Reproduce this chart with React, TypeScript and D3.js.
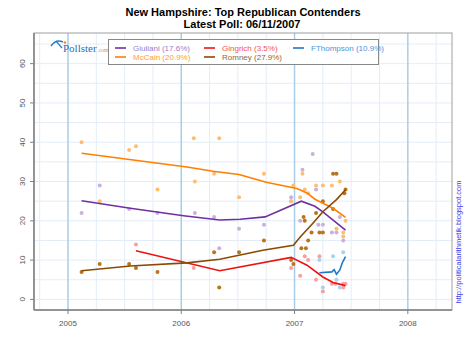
import React from 'react';
import * as d3 from 'd3';

const W = 470;
const H = 352;
const margin = { top: 33, right: 18, bottom: 42, left: 34 };

const yearTicks = [2005, 2006, 2007, 2008];
const valueTicks = [0, 10, 20, 30, 40, 50, 60];

const candidates = ['Giuliani', 'McCain', 'Gingrich', 'Romney', 'FThompson'];
const latest = [17.6, 20.9, 3.5, 27.9, 10.9];

const lineColors: Record<string, string> = {
	Giuliani: '#7030a0',
	McCain: '#ff7f00',
	Gingrich: '#ee1111',
	Romney: '#8b4a00',
	FThompson: '#1f78c4'
};
const pointColors: Record<string, string> = {
	Giuliani: '#c8b0e0',
	McCain: '#ffbd70',
	Gingrich: '#f6a0a0',
	Romney: '#b8741e',
	FThompson: '#a8d2ee'
};
const legendText: Record<string, string> = {
	Giuliani: '#9b7cc8',
	McCain: '#ff9a3a',
	Gingrich: '#f05555',
	Romney: '#8a6a40',
	FThompson: '#4b95d6'
};

// polls: [decimal year, percent]
const giulianiPolls = [
	[2005.12, 22], [2005.28, 29], [2005.54, 23], [2005.79, 22], [2006.12, 22], [2006.29, 21],
	[2006.335, 13], [2006.51, 18], [2006.73, 19], [2006.97, 26], [2006.97, 25], [2007.05, 20],
	[2007.07, 33], [2007.16, 37], [2007.19, 28], [2007.21, 19], [2007.25, 19], [2007.33, 17],
	[2007.37, 17], [2007.4, 21], [2007.43, 15]
];
const mccainPolls = [
	[2005.12, 40], [2005.28, 25], [2005.54, 38], [2005.6, 39], [2005.79, 28], [2006.11, 41],
	[2006.12, 30], [2006.29, 32], [2006.335, 41], [2006.51, 26], [2006.73, 32], [2006.97, 25],
	[2006.99, 29], [2007.05, 26], [2007.07, 32], [2007.09, 28], [2007.12, 27], [2007.19, 29],
	[2007.25, 29], [2007.33, 29], [2007.4, 30], [2007.37, 18], [2007.43, 17], [2007.43, 16],
	[2007.45, 20]
];
const gingrichPolls = [
	[2005.6, 14], [2006.11, 8], [2006.97, 8], [2007.05, 6], [2007.09, 11], [2007.12, 10],
	[2007.19, 5], [2007.22, 11], [2007.25, 2], [2007.33, 4], [2007.36, 4], [2007.43, 4],
	[2007.45, 4], [2007.43, 3]
];
const romneyPolls = [
	[2005.12, 7], [2005.28, 9], [2005.54, 9], [2005.6, 8], [2005.79, 7], [2006.29, 12],
	[2006.335, 3], [2006.51, 12], [2006.73, 15], [2006.97, 10], [2006.99, 9], [2007.06, 13],
	[2007.08, 21], [2007.09, 20], [2007.1, 13], [2007.12, 15], [2007.15, 17], [2007.19, 22],
	[2007.22, 17], [2007.25, 17], [2007.25, 25], [2007.34, 32], [2007.37, 32], [2007.34, 23],
	[2007.44, 27], [2007.45, 28]
];
const thompsonPolls = [
	[2007.22, 10], [2007.25, 3], [2007.34, 11], [2007.37, 5], [2007.4, 3], [2007.43, 12]
];

const giulianiTrend = [
	[2005.12, 25.1], [2005.55, 23.2], [2006.02, 21.3], [2006.34, 20.2], [2006.52, 20.4],
	[2006.74, 21.0], [2007.06, 25.0], [2007.18, 23.7], [2007.25, 22.3], [2007.45, 17.6]
];
const mccainTrend = [
	[2005.12, 37.2], [2006.05, 33.7], [2006.28, 32.6], [2006.51, 31.8], [2006.75, 29.8],
	[2007.02, 28.2], [2007.11, 27.1], [2007.18, 25.5], [2007.34, 23.2], [2007.45, 20.9]
];
const gingrichTrend = [
	[2005.6, 12.4], [2006.34, 7.3], [2006.97, 10.7], [2007.11, 8.7], [2007.25, 5.7],
	[2007.34, 4.3], [2007.45, 3.5]
];
const romneyTrend = [
	[2005.12, 7.3], [2005.55, 8.5], [2006.05, 9.3], [2006.34, 10.2], [2006.72, 12.5],
	[2006.99, 13.8], [2007.05, 15.9], [2007.16, 19.3], [2007.25, 22.3], [2007.37, 25.4],
	[2007.45, 27.9]
];
const thompsonTrend = [
	[2007.22, 6.8], [2007.33, 7.0], [2007.35, 7.6], [2007.37, 6.4], [2007.4, 7.5],
	[2007.42, 9.2], [2007.45, 10.9]
];

const polls: Record<string, number[][]> = {
	Giuliani: giulianiPolls,
	McCain: mccainPolls,
	Gingrich: gingrichPolls,
	Romney: romneyPolls,
	FThompson: thompsonPolls
};
const trends: Record<string, number[][]> = {
	Giuliani: giulianiTrend,
	McCain: mccainTrend,
	Gingrich: gingrichTrend,
	Romney: romneyTrend,
	FThompson: thompsonTrend
};

const x = d3.scaleLinear().domain([2004.7, 2008.39]).range([margin.left, W - margin.right]);
const y = d3.scaleLinear().domain([-2.7, 67.8]).range([H - margin.bottom, margin.top]);

const line = d3
	.line<number[]>()
	.x(d => x(d[0]))
	.y(d => y(d[1]));

const minorX = d3.range(2004.75, 2008.4, 0.25).filter(v => Math.abs(v - Math.round(v)) > 0.01);
const minorY = d3.range(0, 68, 5);

export default function App() {
	const x0 = margin.left;
	const x1 = W - margin.right;
	const y0 = H - margin.bottom;
	const y1 = margin.top;
	const font = 'Arial, "Liberation Sans", sans-serif';

	return (
		<svg width={W} height={H} style={{ position: 'absolute', left: 0, top: 0, background: '#fff' }} fontFamily={font}>
			<text x={243} y={16} textAnchor="middle" fontSize={11} fontWeight="bold">
				New Hampshire: Top Republican Contenders
			</text>
			<text x={242} y={27.5} textAnchor="middle" fontSize={11} fontWeight="bold">
				Latest Poll: 06/11/2007
			</text>

			{/* grid */}
			{minorY.map(v => (
				<line key={'gy' + v} x1={x0} x2={x1} y1={y(v)} y2={y(v)} stroke="#e3edf7" strokeWidth={1} />
			))}
			{minorX.map(v => (
				<line key={'gx' + v} x1={x(v)} x2={x(v)} y1={y1} y2={y0} stroke="#e3edf7" strokeWidth={1} />
			))}
			{yearTicks.map(v => (
				<line key={'yr' + v} x1={x(v)} x2={x(v)} y1={y1} y2={y0} stroke="#a9cde6" strokeWidth={1.5} />
			))}

			{/* frame */}
			<rect x={x0} y={y1} width={x1 - x0} height={y0 - y1} fill="none" stroke="#a0a0a0" strokeWidth={1} />
			<line x1={x0} x2={x0} y1={y1} y2={y0} stroke="#808080" strokeWidth={1.5} />
			<line x1={x0} x2={x1} y1={y0} y2={y0} stroke="#808080" strokeWidth={1.5} />

			{/* axes */}
			{valueTicks.map(v => (
				<g key={'yt' + v}>
					<line x1={x0 - 4} x2={x0} y1={y(v)} y2={y(v)} stroke="#808080" />
					<text
						transform={`translate(${25}, ${y(v)}) rotate(-90)`}
						textAnchor="middle"
						fontSize={8}
						fill="#555"
					>
						{v}
					</text>
				</g>
			))}
			{yearTicks.map(v => (
				<g key={'xt' + v}>
					<line x1={x(v)} x2={x(v)} y1={y0} y2={y0 + 4} stroke="#808080" />
					<text x={x(v)} y={y0 + 16} textAnchor="middle" fontSize={8} fill="#555">
						{v}
					</text>
				</g>
			))}

			{/* points */}
			{candidates.map(c =>
				polls[c].map((d, i) => (
					<circle key={c + i} cx={x(d[0])} cy={y(d[1])} r={2} fill={pointColors[c]} />
				))
			)}

			{/* trend lines */}
			{candidates.map(c => (
				<path key={'l' + c} d={line(trends[c]) || ''} fill="none" stroke={lineColors[c]} strokeWidth={1.6} />
			))}

			{/* pollster logo */}
			<g>
				<path d="M51,46 Q56,39 63,42" fill="none" stroke="#2a7fc8" strokeWidth={1.5} />
				<path d="M56,41 L62,48" fill="none" stroke="#2a7fc8" strokeWidth={1.2} />
				<circle cx={65} cy={42.5} r={1.2} fill="#f08a20" />
				<text x={63} y={52} fontFamily='"Liberation Serif", "DejaVu Serif", serif' fontSize={11} fill="#1f6fb8">
					Pollster
				</text>
				<text x={97.5} y={52} fontFamily='"Liberation Serif", serif' fontSize={5.5} fill="#f08a20">
					.com
				</text>
			</g>

			{/* legend */}
			<rect x={108.5} y={39.5} width={270} height={25} fill="#fff" stroke="#888" strokeWidth={1} />
			{candidates.map((c, i) => {
				const col = Math.floor(i / 2);
				const row = i % 2;
				const lx = 115 + col * 89;
				const ly = 48 + row * 9;
				return (
					<g key={'lg' + c}>
						<line x1={lx} x2={lx + 11} y1={ly} y2={ly} stroke={lineColors[c]} strokeWidth={1.6} />
						<text x={lx + 18} y={ly + 3} fontSize={8} fill={legendText[c]}>
							{`${c} (${latest[i]}%)`}
						</text>
					</g>
				);
			})}

			<text
				transform={`translate(461, 242) rotate(-90)`}
				textAnchor="middle"
				fontSize={7.5}
				fill="#3b3bf0"
			>
				http://politicalarithmetik.blogspot.com
			</text>
		</svg>
	);
}
